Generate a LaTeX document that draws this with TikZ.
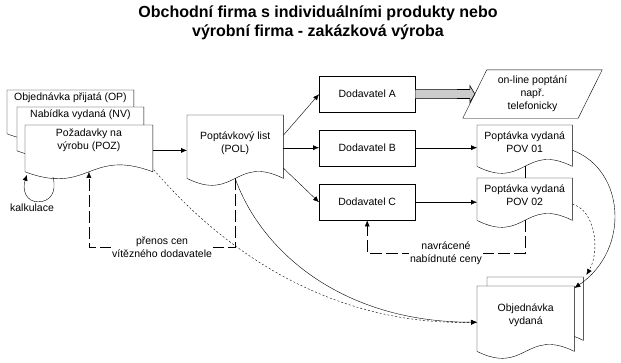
\documentclass[tikz,border=0pt]{standalone}
\usepackage{fontspec}
\setmainfont{Liberation Sans}
\usetikzlibrary{arrows.meta,positioning,calc,backgrounds}

\newcommand{\bodyfont}{\fontsize{10.5}{13}\selectfont}
\newcommand{\titlefont}{\fontsize{16}{19}\selectfont\bfseries}

% document sheet: flat top, wavy bottom (drop = wave below the node's south)
\newcommand{\docsheet}[2]{%
  \begin{pgfonlayer}{background}
  \draw[fill=white] (#1.north west) -- (#1.north east) -- ($(#1.south east)+(0,#2)$)
    .. controls ($(#1.south)+(0,#2-24)$) and ($(#1.south)+(0,#2+24)$) .. ($(#1.south west)+(0,#2)$) -- cycle;
  \end{pgfonlayer}}

\begin{document}
\begin{tikzpicture}[
  x=1pt, y=-1pt, line width=0.8pt,
  sheet/.style={anchor=north west, inner sep=0pt, align=center, font=\bodyfont},
  supp/.style={draw, anchor=north west, minimum width=96pt, minimum height=36pt, font=\bodyfont},
  arr/.style={-{Latex[length=6pt,width=5pt]}},
  dasharr/.style={arr, dash pattern=on 12pt off 4pt},
  dotarr/.style={arr, dash pattern=on 2pt off 2pt},
  lbl/.style={font=\bodyfont, align=center, fill=white, inner sep=1pt}
]
\useasboundingbox (0,0) rectangle (621,362);
\node[font=\titlefont, align=center] (title) at (318,23) {Obchodní firma s individuálními produkty nebo\\výrobní firma - zakázková výroba};

% stacked input documents
\node[sheet, minimum width=126pt, minimum height=14pt] (op) at (7,90) {Objednávka přijatá (OP)};
\node[sheet, minimum width=126pt, minimum height=14pt] (nv) at (17,107) {Nabídka vydaná (NV)};
\node[sheet, minimum width=127pt, minimum height=29pt] (poz) at (25,125) {Požadavky na\\výrobu (POZ)};
\docsheet{op}{29}
\docsheet{nv}{29}
\docsheet{poz}{17}

\node[sheet, minimum width=96pt, minimum height=57pt] (pol) at (187,115) {Poptávkový list\\(POL)};
\docsheet{pol}{6}

% suppliers
\node[supp] (dodA) at (319,76) {Dodavatel A};
\node[supp] (dodB) at (319,129.5) {Dodavatel B};
\node[supp] (dodC) at (319,184) {Dodavatel C};

\node[align=center, font=\bodyfont, inner sep=0pt, minimum width=115pt, minimum height=48pt] (online) at (532.5,94) {on-line poptání\\např.\\telefonicky};
\draw ($(online.north west)+(12,0)$) -- ($(online.north east)+(12,0)$) -- ($(online.south east)+(-12,0)$) -- ($(online.south west)+(-12,0)$) -- cycle;

\node[sheet, minimum width=95pt, minimum height=34pt] (pov1) at (477,125) {Poptávka vydaná\\POV 01};
\node[sheet, minimum width=95pt, minimum height=34pt] (pov2) at (477,178) {Poptávka vydaná\\POV 02};
\docsheet{pov1}{7}
\docsheet{pov2}{8}

\node[sheet, minimum width=96pt, minimum height=63pt] (objb) at (487,277) {};
\node[sheet, minimum width=97pt, minimum height=58pt] (objf) at (477,286) {Objednávka\\vydaná};
\docsheet{objb}{0}
\docsheet{objf}{7}

% flows
\coordinate (pozout) at ($(poz.east)+(0,10.5)$);
\draw[arr] (pozout) -- (pozout -| pol.west);
\draw[arr] ($(pol.east)+(0,-8.5)$) -- (dodA.west);
\draw[arr] (pol.east |- dodB.west) -- (dodB.west);
\draw[arr] ($(pol.east)+(0,24.5)$) -- (dodC.west);
\draw[arr] (dodB.east) -- (dodB.east -| pov1.west);
\draw[arr] (dodC.east) -- (dodC.east -| pov2.west);
\draw ($(pov1.south)+(0,7)$) -- (pov2.north);
\draw[fill=gray!40, line width=0.6pt] ($(dodA.east)+(0,-4.5)$) -- ($(online.west)+(-5,-4.5)$) -- ($(online.west)+(-5,-8.5)$) -- (online.west) -- ($(online.west)+(-5,8.5)$) -- ($(online.west)+(-5,4.5)$) -- ($(dodA.east)+(0,4.5)$);

% returned prices
\draw[dasharr] ($(pov2.south)+(0,8)$) -- ++(0,33) -| node[lbl, pos=0.25] {navrácené\\nabídnuté ceny} (dodC.south);
\draw[dasharr] ($(pol.south)+(0,6)$) -- ++(0,69) -| node[lbl, pos=0.25] {přenos cen\\vítězného dodavatele} ($(poz.south)+(0,17)$);

% calculation loop
\draw[arr] ($(poz.south west)+(28,22)$) .. controls +(4,16) and +(12,0) .. ($(poz.south west)+(13,47)$) .. controls +(-12,0) and +(-5,15) .. ($(poz.south west)+(2,20)$);
\node[font=\bodyfont] (kalk) at (32,208) {kalkulace};

% to the order
\draw[dotarr] ($(poz.south east)+(1,15)$) .. controls +(86,100) and +(-127,3) .. ($(objf.west)+(0,7)$);
\draw[arr] ($(pol.south)+(0,6)$) .. controls +(25,71) and +(-137,0) .. ($(objf.west)+(0,7)$);
\draw[arr] ($(pov1.east)+(0,8)$) .. controls +(53,20) and +(56,-38) .. ($(objf.north east)+(0,2)$);
\draw[dotarr] ($(pov2.east)+(0,9)$) .. controls +(23,6) and +(14,-24) .. ($(objb.north east)+(3,-2)$);
\end{tikzpicture}
\end{document}
